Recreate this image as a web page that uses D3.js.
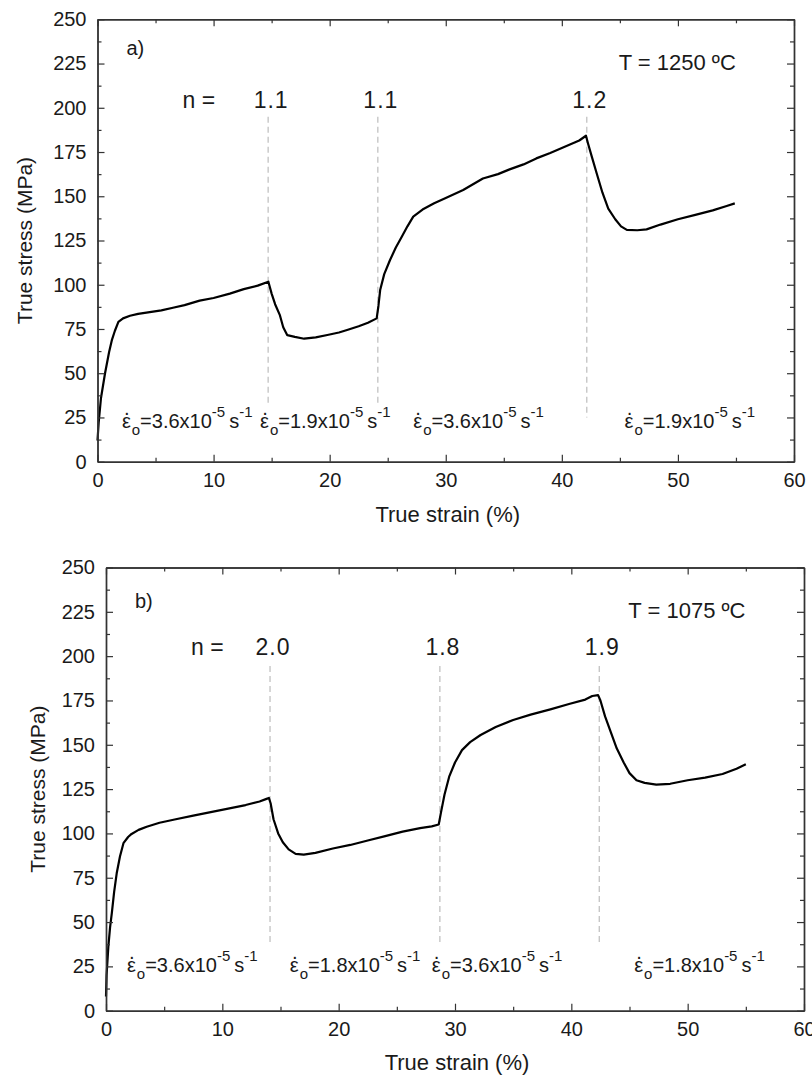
<!DOCTYPE html>
<html>
<head>
<meta charset="utf-8">
<script src="https://cdn.jsdelivr.net/npm/d3@7"></script>
<style>
  body { margin: 0; background: #fff; }
  text { font-family: "Liberation Sans", Arial, sans-serif; fill: #1a1a1a; }
</style>
</head>
<body>
<svg id="chart" width="812" height="1086"></svg>
<script>
// ---- data ----

// panel a) T = 1250 C
const strainA = [0.0, 0.1, 0.3, 0.65, 1.0, 1.25, 1.5, 1.8, 2.2, 2.8, 3.5, 4.5, 5.5, 6.5, 7.5, 8.8, 10.0, 11.4, 12.6, 13.8, 14.72,
  15.0, 15.3, 15.7, 16.0, 16.35, 17.0, 17.8, 18.8, 19.8, 20.8, 21.5, 22.5, 23.3, 24.05,
  24.2, 24.35, 24.7, 25.2, 25.7, 26.2, 26.7, 27.2, 28.0, 29.0, 30.0, 31.5, 33.2, 34.5, 35.5, 36.7, 37.8, 39.0, 40.4, 41.5, 42.08,
  42.25, 42.6, 43.0, 43.5, 44.0, 44.6, 45.1, 45.6, 46.5, 47.3, 48.5, 50.0, 51.5, 53.0, 54.2, 54.9];
const stressA = [12, 22, 36, 50, 62, 69, 74, 79, 81, 82.5, 83.5, 84.5, 85.5, 87, 88.5, 91, 92.5, 95, 97.5, 99.5, 101.7,
  95, 89, 83, 76, 71.5, 70.5, 69.5, 70.3, 71.6, 73, 74.4, 76.5, 78.5, 81,
  88, 97, 106, 114, 121, 127, 133, 138.5, 142.5, 146, 149, 153.5, 160, 162.5, 165.2, 168, 171.4, 174.5, 178.4, 181.5, 184.2,
  180, 172, 163, 152, 143, 137, 133, 131, 130.8, 131.3, 134, 137, 139.5, 142, 144.5, 146];
const jumpStrainA = [14.7, 24.15, 42.15];
const nValuesA = ["1.1", "1.1", "1.2"];
const ratesA = ["3.6", "1.9", "3.6", "1.9"];

// panel b) T = 1075 C
const strainB = [0.0, 0.05, 0.2, 0.35, 0.5, 0.7, 0.92, 1.2, 1.5, 1.9, 2.2, 2.8, 3.5, 4.6, 6, 7.5, 9, 10.5, 12, 13.2, 13.8, 14.0,
  14.15, 14.4, 14.8, 15.2, 15.7, 16.3, 17.0, 18.0, 19.5, 21, 22.5, 24, 25.5, 27, 28.0, 28.6,
  28.8, 29.1, 29.5, 30.0, 30.6, 31.3, 32.2, 33.5, 35, 36.5, 38.2, 39.8, 41.2, 41.8, 42.3,
  42.5, 42.9, 43.4, 43.9, 44.5, 45.0, 45.6, 46.3, 47.3, 48.5, 50, 51.5, 53, 54.2, 55.0];
const stressB = [8, 20, 36, 47, 55, 67, 77.5, 87, 94.5, 98, 99.7, 102, 103.8, 106, 108, 110, 112, 114, 116, 118, 119.5, 120,
  117, 108, 100, 95, 91, 88.5, 88, 89, 91.5, 93.5, 96, 98.5, 101, 103, 104, 105,
  112, 122, 132, 140, 147, 151.5, 155.5, 160, 164, 167, 170, 173, 175.5, 177.5, 178,
  175, 166, 157, 148, 140, 134, 130, 128.5, 127.5, 128, 130, 131.5, 133.5, 136.5, 139];
const jumpStrainB = [14.1, 28.7, 42.4];
const nValuesB = ["2.0", "1.8", "1.9"];
const ratesB = ["3.6", "1.8", "3.6", "1.8"];

// axes
const xMajorTicks = [0, 10, 20, 30, 40, 50, 60];
const xMinorTicks = [5, 15, 25, 35, 45, 55];
const yMajorTicks = [0, 25, 50, 75, 100, 125, 150, 175, 200, 225, 250];
const yMinorTicks = [12.5, 37.5, 62.5, 87.5, 112.5, 137.5, 162.5, 187.5, 212.5, 237.5];

const svg = d3.select("#chart");

const panels = [
  { left: 97.5, right: 794, top: 19.3, bottom: 461.7, strain: strainA, stress: stressA,
    jumps: jumpStrainA, nValues: nValuesA, rates: ratesA, letter: "a)", temp: "T = 1250 \u00baC",
    rateX: [2.1, 14.0, 27.2, 45.4], rateY: 19, dashEnds: [[195, 31], [195, 31], [195, 25]],
    nY: 108, letterY: 55, tempY: 70, xTitleY: 522, yTitleX: 32 },
  { left: 106, right: 804, top: 567.5, bottom: 1010.7, strain: strainB, stress: stressB,
    jumps: jumpStrainB, nValues: nValuesB, rates: ratesB, letter: "b)", temp: "T = 1075 \u00baC",
    rateX: [1.8, 15.8, 28.0, 45.4], rateY: 21.8, dashEnds: [[194.5, 37.6], [194.5, 37.6], [194.5, 37.6]],
    nY: 655, letterY: 608, tempY: 618, xTitleY: 1070, yTitleX: 45 }
];

function styleAxis(sel) {
  sel.select(".domain").attr("stroke", "#333").attr("stroke-width", 1.4);
  sel.selectAll(".tick line").attr("stroke", "#333").attr("stroke-width", 1.2);
  sel.selectAll(".tick text").attr("font-size", 20).attr("fill", "#1a1a1a")
    .attr("font-family", "'Liberation Sans', Arial, sans-serif");
}

function drawPanel(p) {
  const x = d3.scaleLinear().domain([0, 60]).range([p.left, p.right]);
  const y = d3.scaleLinear().domain([0, 250]).range([p.bottom, p.top]);
  const g = svg.append("g");

  // dashed lines at the strain-rate changes
  g.selectAll("line.jump")
    .data(p.jumps)
    .enter()
    .append("line")
    .attr("x1", d => x(d)).attr("x2", d => x(d))
    .attr("y1", (d, i) => y(p.dashEnds[i][0]))
    .attr("y2", (d, i) => y(p.dashEnds[i][1]))
    .attr("stroke", "#bdbdbd")
    .attr("stroke-width", 1.2)
    .attr("stroke-dasharray", "6,4");

  // the curve
  const line = d3.line()
    .x(d => x(d[0]))
    .y(d => y(d[1]));
  g.append("path")
    .datum(p.strain.map((s, i) => [s, p.stress[i]]))
    .attr("d", line)
    .attr("fill", "none")
    .attr("stroke", "#000")
    .attr("stroke-width", 2.2)
    .attr("stroke-linejoin", "round");

  // axes, ticks pointing inward on all four sides
  g.append("g").attr("transform", `translate(0,${p.bottom})`)
    .call(d3.axisBottom(x).tickValues(xMajorTicks).tickSize(-7).tickSizeOuter(0).tickPadding(11))
    .call(styleAxis);
  g.append("g").attr("transform", `translate(0,${p.bottom})`)
    .call(d3.axisBottom(x).tickValues(xMinorTicks).tickSize(-4).tickSizeOuter(0).tickFormat(""))
    .call(styleAxis);
  g.append("g").attr("transform", `translate(0,${p.top})`)
    .call(d3.axisTop(x).tickValues(xMajorTicks).tickSize(-7).tickSizeOuter(0).tickFormat(""))
    .call(styleAxis);
  g.append("g").attr("transform", `translate(0,${p.top})`)
    .call(d3.axisTop(x).tickValues(xMinorTicks).tickSize(-4).tickSizeOuter(0).tickFormat(""))
    .call(styleAxis);
  g.append("g").attr("transform", `translate(${p.left},0)`)
    .call(d3.axisLeft(y).tickValues(yMajorTicks).tickSize(-7).tickSizeOuter(0).tickPadding(11))
    .call(styleAxis);
  g.append("g").attr("transform", `translate(${p.left},0)`)
    .call(d3.axisLeft(y).tickValues(yMinorTicks).tickSize(-4).tickSizeOuter(0).tickFormat(""))
    .call(styleAxis);
  g.append("g").attr("transform", `translate(${p.right},0)`)
    .call(d3.axisRight(y).tickValues(yMajorTicks).tickSize(-7).tickSizeOuter(0).tickFormat(""))
    .call(styleAxis);
  g.append("g").attr("transform", `translate(${p.right},0)`)
    .call(d3.axisRight(y).tickValues(yMinorTicks).tickSize(-4).tickSizeOuter(0).tickFormat(""))
    .call(styleAxis);

  // axis titles
  g.append("text")
    .attr("x", (p.left + p.right) / 2 + 2)
    .attr("y", p.xTitleY)
    .attr("text-anchor", "middle")
    .attr("font-size", 22)
    .text("True strain (%)");
  g.append("text")
    .attr("transform", `translate(${p.yTitleX},${(p.top + p.bottom) / 2}) rotate(-90)`)
    .attr("text-anchor", "middle")
    .attr("font-size", 21)
    .text("True stress (MPa)");

  // panel letter and temperature
  g.append("text").attr("x", p.left + 29).attr("y", p.letterY).attr("font-size", 20).text(p.letter);
  g.append("text").attr("x", x(44.9)).attr("y", p.tempY).attr("font-size", 22).text(p.temp);

  // stress exponents
  g.append("text").attr("x", p.left + 85).attr("y", p.nY).attr("font-size", 23).text("n =");
  g.selectAll("text.nval")
    .data(p.nValues)
    .enter()
    .append("text")
    .attr("x", (d, i) => x(p.jumps[i]) + 3)
    .attr("y", p.nY)
    .attr("text-anchor", "middle")
    .attr("font-size", 23)
    .attr("letter-spacing", 1)
    .text(d => d);

  // strain-rate labels: epsilon with a dot, subscript o, powers of ten
  p.rates.forEach((r, i) => {
    const t = g.append("text").attr("x", x(p.rateX[i])).attr("y", y(p.rateY)).attr("font-size", 20);
    t.append("tspan").text("\u03b5");
    t.append("tspan").attr("dx", -7.3).attr("dy", -9).text("\u00b7");
    t.append("tspan").attr("dx", 1.6).attr("dy", 16).attr("font-size", 15).text("o");
    t.append("tspan").attr("dy", -7).text("=" + r + "x10");
    t.append("tspan").attr("dy", -11).attr("font-size", 15).text("-5");
    t.append("tspan").attr("dy", 11).attr("dx", 4).text("s");
    t.append("tspan").attr("dy", -11).attr("font-size", 15).text("-1");
  });
}

panels.forEach(drawPanel);
</script>
</body>
</html>
